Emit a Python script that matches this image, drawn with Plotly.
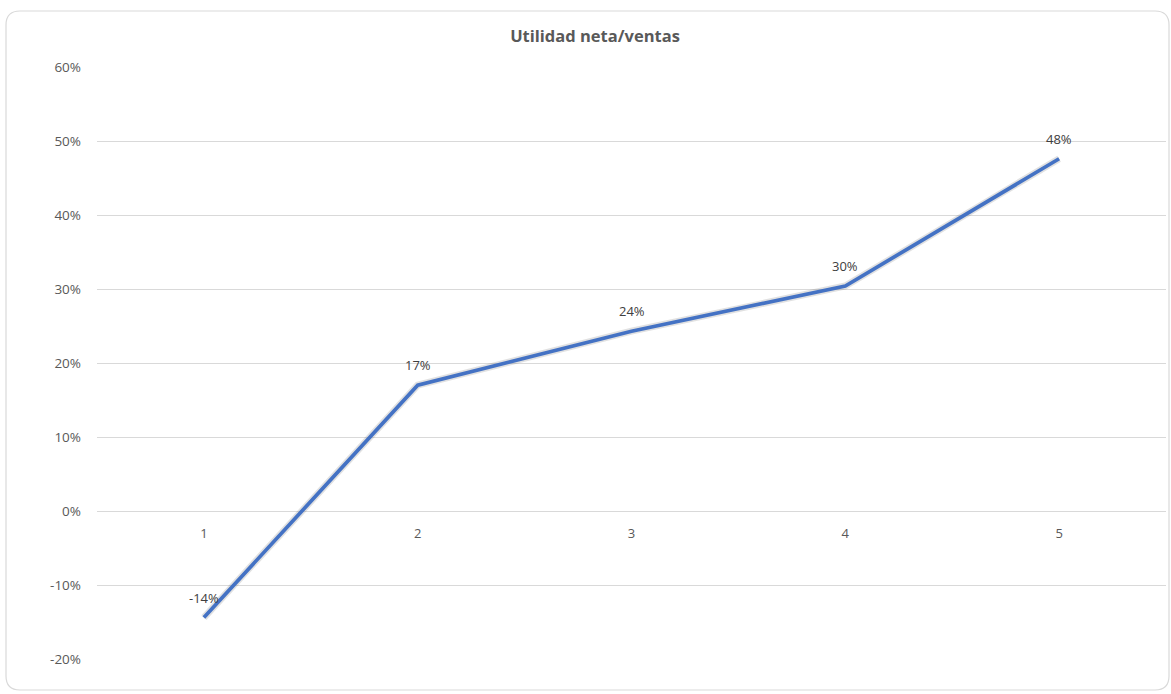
import plotly.graph_objects as go

# Net income / sales ratio by period
periods = [1, 2, 3, 4, 5]
ratio = [-0.144, 0.17, 0.243, 0.304, 0.476]
y_ticks = [-0.2, -0.1, 0.0, 0.1, 0.2, 0.3, 0.4, 0.5, 0.6]
title_text = "Utilidad neta/ventas"

W, H = 1171, 694
L, R, T, B = 97, 5, 67, 35
y_min, y_max = -0.2, 0.6

FONT = "Open Sans, Noto Sans, sans-serif"
GRAY = "#595959"


def pct(v):
    return f"{round(v * 100):d}%"


fig = go.Figure()

# soft shadow under the series line
fig.add_trace(go.Scatter(
    x=periods, y=ratio, mode="lines",
    line=dict(color="rgba(90,90,90,0.18)", width=7),
    hoverinfo="skip", showlegend=False,
))

fig.add_trace(go.Scatter(
    x=periods, y=ratio, mode="lines",
    line=dict(color="#4472C4", width=3.7),
    showlegend=False,
))

# data labels sitting above each point
annotations = [
    dict(
        x=p, y=v, xref="x", yref="y", text=pct(v), showarrow=False,
        yshift=20, xanchor="center", yanchor="middle",
        font=dict(family=FONT, size=13, color="#404040"),
    )
    for p, v in zip(periods, ratio)
]

# category axis crosses the value axis at zero
zero_pos = (0 - y_min) / (y_max - y_min)

# rounded chart-area border, drawn in pixel units relative to the plot area
pw, ph = W - L - R, H - T - B


def px(x):
    return (x - L) / pw


def py(y):
    return (H - B - y) / ph


x0, x1, y0, y1, r = 6, 1169, 11, 690, 14
border = (
    f"M {px(x0 + r)},{py(y0)} L {px(x1 - r)},{py(y0)} "
    f"Q {px(x1)},{py(y0)} {px(x1)},{py(y0 + r)} "
    f"L {px(x1)},{py(y1 - r)} Q {px(x1)},{py(y1)} {px(x1 - r)},{py(y1)} "
    f"L {px(x0 + r)},{py(y1)} Q {px(x0)},{py(y1)} {px(x0)},{py(y1 - r)} "
    f"L {px(x0)},{py(y0 + r)} Q {px(x0)},{py(y0)} {px(x0 + r)},{py(y0)} Z"
)

fig.update_layout(
    width=W, height=H,
    margin=dict(l=L, r=R, t=T, b=B),
    paper_bgcolor="white", plot_bgcolor="white",
    font=dict(family=FONT, size=13, color=GRAY),
    title=dict(
        text=f"<b>{title_text}</b>",
        x=595 / W, xanchor="center", xref="container",
        y=1 - 36 / H, yanchor="middle", yref="container",
        font=dict(family=FONT, size=16.5, color=GRAY),
    ),
    xaxis=dict(
        range=[0.5, 5.5], tickvals=periods, ticktext=[str(p) for p in periods],
        showgrid=False, zeroline=False, showline=False,
        anchor="free", position=zero_pos, ticks="", ticklabelstandoff=13,
        tickfont=dict(family=FONT, size=13, color=GRAY),
    ),
    yaxis=dict(
        range=[y_min, y_max], tickvals=y_ticks,
        ticktext=[pct(v) for v in y_ticks],
        showgrid=True, gridcolor="#D9D9D9", gridwidth=1,
        zeroline=False, showline=False, ticks="", ticklabelstandoff=15,
        tickfont=dict(family=FONT, size=13.5, color=GRAY),
    ),
    annotations=annotations,
    shapes=[dict(
        type="path", xref="paper", yref="paper", layer="below",
        path=border, line=dict(color="#D9D9D9", width=1.2),
    )],
)

fig.write_html("out.html")
